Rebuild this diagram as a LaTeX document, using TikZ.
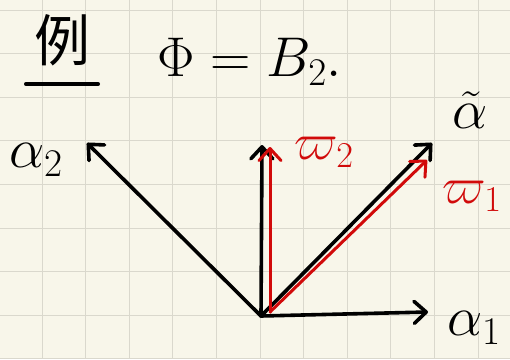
\RequirePackage{fix-cm}
\documentclass[tikz,border=0pt]{standalone}
\usepackage{fontspec}
\newfontfamily\cjk{Noto Sans CJK SC}
\usetikzlibrary{arrows.meta}
\definecolor{paper}{HTML}{F8F6EA}
\definecolor{gridline}{HTML}{DAD8CD}
\definecolor{pen}{HTML}{D10A0A}

\begin{document}
\begin{tikzpicture}[
  x=1pt, y=-1pt,
  vec/.style ={line width=3.6pt, line cap=round, line join=round,
               -{Straight Barb[length=12pt,width=22pt,round]}},
  wvec/.style={vec, draw=pen, line width=3pt},
  lbl/.style ={inner sep=0pt, font=\fontsize{56}{56}\selectfont},
  wlbl/.style={lbl, text=pen, font=\fontsize{52}{52}\selectfont},
]

% paper with grid
\fill[paper] (0,0) rectangle (510,359);
\useasboundingbox (0,0) rectangle (510,359);
\foreach \i in {0,...,11}
  \draw[gridline, line width=1pt] (-1.6+43.6*\i,0) -- (-1.6+43.6*\i,359);
\foreach \j in {0,...,8}
  \draw[gridline, line width=1pt] (0,10+43.6*\j) -- (510,10+43.6*\j);

% heading
\node[inner sep=2pt, font=\cjk\fontsize{56}{56}\selectfont] (ex) at (62,40) {例};
\draw[line width=3.6pt, line cap=round, shorten <=-6pt, shorten >=-6pt]
  ([yshift=-16pt]ex.south west) -- ([yshift=-16pt]ex.south east);
\node[lbl] (phi) at (250,62) {$\Phi=B_2.$};

% root system B2
\coordinate (O)   at (261,316);
\coordinate (Ow)  at (270,312);
\coordinate (a1)  at (428,312);
\coordinate (a2)  at (87,143);
\coordinate (up)  at (262,145);
\coordinate (at)  at (432,143);
\coordinate (w2)  at (270,147);
\coordinate (w1)  at (427,160);

\draw[vec]  (O)  -- (a1);
\draw[vec]  (O)  -- (a2);
\draw[vec]  (O)  -- (up);
\draw[vec]  (O)  -- (at);
\draw[wvec] (Ow) -- (w2);
\draw[wvec] (Ow) -- (w1);

% labels
\node[lbl]  (la2) at (36,160)  {$\alpha_2$};
\node[lbl]  (la1) at (474,328) {$\alpha_1$};
\node[lbl]  (lat) at (470,110) {$\tilde{\alpha}$};
\node[wlbl] (lw2) at (324,152) {$\varpi_2$};
\node[wlbl] (lw1) at (472,196) {$\varpi_1$};

\end{tikzpicture}
\end{document}
